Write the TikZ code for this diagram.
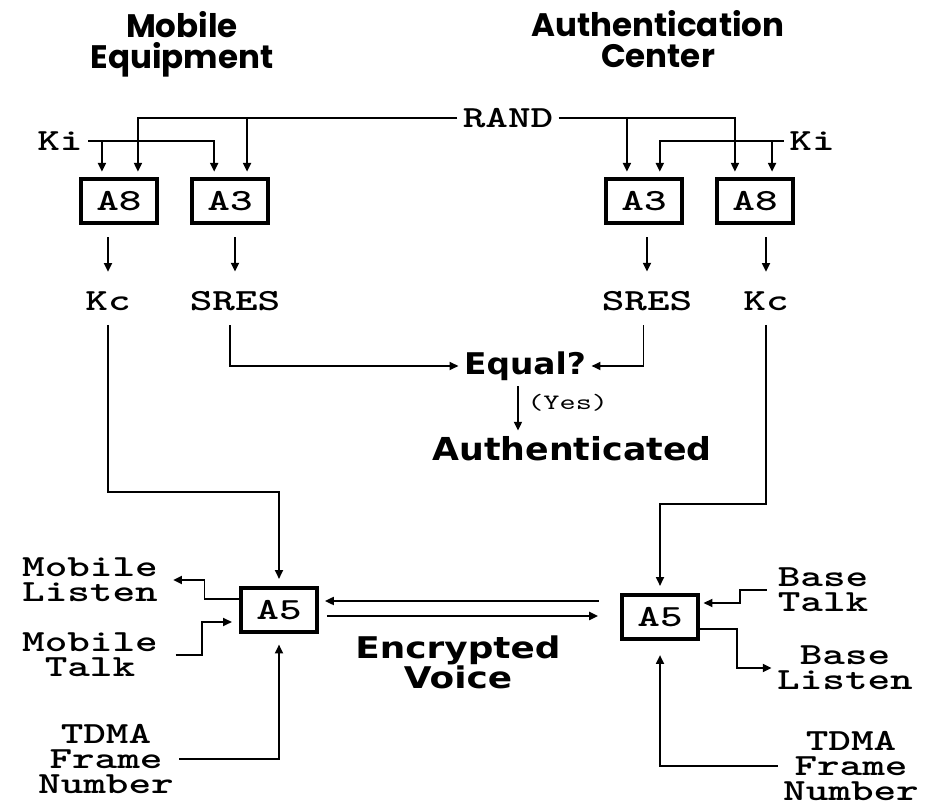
\documentclass[tikz,border=0pt]{standalone}
\usepackage{fontspec}
\usetikzlibrary{arrows.meta}
\newfontfamily\codefont{lmmono10-regular.otf}[BoldFont=lmmonolt10-bold.otf, FakeStretch=1.4]
\newfontfamily\headfont{Poppins}
\newfontfamily\heavyfont{DejaVu Sans}[FakeStretch=1.1]
\newfontfamily\widefont{DejaVu Sans}[FakeStretch=1.2]
\tikzset{
  lbl/.style={font=\codefont\bfseries\fontsize{17.5}{14.2}\selectfont, inner sep=3pt, align=center},
  blk/.style={draw, line width=2.3pt, minimum width=1.52cm, minimum height=0.88cm, inner sep=0pt,
    font=\codefont\bfseries\fontsize{17.5}{14.2}\selectfont},
  headlbl/.style={font=\headfont\bfseries\fontsize{18.5}{17.6}\selectfont, align=center},
  arr/.style={-{Triangle[length=5pt,width=4.5pt]}, line width=1.1pt},
}
\begin{document}
\begin{tikzpicture}[x=0.02cm,y=-0.02cm]
  \fill[white] (0,0) rectangle (934,801);
  %%%%%%%%%%%%%headings%%%%%%%%%%%%%%%%%%%%%%
  \node[headlbl] (me) at (182,44) {Mobile\\Equipment};
  \node[headlbl] (ac) at (658,39) {Authentication\\Center};

  %%%%%%%%%%%%%A8 and A3 on both sides%%%%%%%%%%%%%%%%%%%%%%
  \node[lbl] (rand) at (508,118) {RAND};
  \node[lbl] (kiL) at (60,141) {Ki};
  \node[lbl] (kiR) at (812,141) {Ki};
  \node[blk] (a8L) at (119,201) {A8};
  \node[blk] (a3L) at (230,201) {A3};
  \node[blk] (a3R) at (644,201) {A3};
  \node[blk] (a8R) at (755,201) {A8};

  \draw[arr, shorten >=3pt] (rand.west) -| ([xshift=10.8pt]a8L.north);
  \draw[arr, shorten >=3pt] (rand.west) -| ([xshift=9.7pt]a3L.north);
  \draw[arr, shorten >=3pt] (rand.east) -| ([xshift=-9.7pt]a3R.north);
  \draw[arr, shorten >=3pt] (rand.east) -| ([xshift=-11.4pt]a8R.north);
  \draw[arr, shorten >=3pt] (kiL.east) -| ([xshift=-9.7pt]a8L.north);
  \draw[arr, shorten >=3pt] (kiL.east) -| ([xshift=-9pt]a3L.north);
  \draw[arr, shorten >=3pt] (kiR.west) -| ([xshift=9pt]a3R.north);
  \draw[arr, shorten >=3pt] (kiR.west) -| ([xshift=9.7pt]a8R.north);

  %%%%%%%%%%%%%Kc and SRES%%%%%%%%%%%%%%%%%%%%%%
  \node[lbl] (kcL) at (108,301) {Kc};
  \node[lbl] (sresL) at (235,301) {SRES};
  \node[lbl] (sresR) at (647,301) {SRES};
  \node[lbl] (kcR) at (766,301) {Kc};

  \draw[arr, shorten <=7pt, shorten >=8pt] (kcL |- a8L.south) -- (kcL.north);
  \draw[arr, shorten <=7pt, shorten >=8pt] (sresL |- a3L.south) -- (sresL.north);
  \draw[arr, shorten <=7pt, shorten >=8pt] (sresR |- a3R.south) -- (sresR.north);
  \draw[arr, shorten <=7pt, shorten >=8pt] (kcR |- a8R.south) -- (kcR.north);

  %%%%%%%%%%%%%comparison%%%%%%%%%%%%%%%%%%%%%%
  \node[font=\heavyfont\bfseries\fontsize{17}{17}\selectfont, inner sep=3pt] (eq) at (525,366) {Equal?};
  \node[font=\heavyfont\bfseries\fontsize{18}{18}\selectfont] (auth) at (572,449) {Authenticated};
  \node[font=\codefont\fontsize{12.5}{13}\selectfont, anchor=west, inner sep=0pt] (yes) at (527,403) {(Yes)};

  \draw[arr, shorten <=5pt] ([xshift=-3pt]sresL.south) |- (eq.west);
  \draw[arr, shorten <=5pt] ([xshift=-2pt]sresR.south) |- (eq.east);
  \draw[arr] ([xshift=-4pt]eq.south) -- ([xshift=-4pt]eq.south |- auth.north);

  %%%%%%%%%%%%%A5 on both sides%%%%%%%%%%%%%%%%%%%%%%
  \node[blk] (a5L) at (279,610) {A5};
  \node[blk] (a5R) at (660,617) {A5};
  \node[font=\widefont\bfseries\fontsize{17}{17}\selectfont, align=center] (ev) at (458,662) {Encrypted\\Voice};

  \coordinate (bendL) at (0,492);
  \coordinate (bendR) at (0,504);
  \draw[arr, shorten <=5pt, shorten >=4pt] (kcL.south) -- (kcL.south |- bendL) -| (a5L.north);
  \draw[arr, shorten <=5pt, shorten >=4pt] (kcR.south) -- (kcR.south |- bendR) -| (a5R.north);

  \coordinate (vup) at (0,601);
  \coordinate (vdn) at (0,616);
  \draw[arr, shorten <=12pt, shorten >=3.4pt] (a5R.west |- vup) -- (a5L.east |- vup);
  \draw[arr, shorten <=4.5pt, shorten >=12.5pt] (a5L.east |- vdn) -- (a5R.west |- vdn);

  %%%%%%%%%%%%%mobile side%%%%%%%%%%%%%%%%%%%%%%
  \node[lbl] (mlisten) at (90,580) {Mobile\\Listen};
  \node[lbl] (mtalk) at (90,655) {Mobile\\Talk};
  \node[lbl] (tdmaL) at (106,759) {TDMA\\Frame\\Number};

  \coordinate (lsn) at (0,599);
  \coordinate (tlk) at (0,622);
  \draw[arr, shorten >=5.5pt] ([xshift=2pt]a5L.west |- lsn) -- ++(-38,0) |- (mlisten.east);
  \draw[arr, shorten <=7pt, shorten >=4pt] (mtalk.east) -- ++(39,0) |- (a5L.west |- tlk);
  \draw[arr, shorten >=6pt] (tdmaL.east) -| (a5L.south);

  %%%%%%%%%%%%%base side%%%%%%%%%%%%%%%%%%%%%%
  \node[lbl] (btalk) at (823,590) {Base\\Talk};
  \node[lbl] (blisten) at (845,668) {Base\\Listen};
  \node[lbl] (tdmaR) at (851,766) {TDMA\\Frame\\Number};

  \coordinate (btk) at (0,603);
  \coordinate (bls) at (0,629);
  \draw[arr, shorten <=3pt, shorten >=2pt] (btalk.west) -- ++(-32,0) |- (a5R.east |- btk);
  \draw[arr] (a5R.east |- bls) -- ++(37,0) |- (blisten.west);
  \draw[arr, shorten >=8pt] (tdmaR.west) -| (a5R.south);
\end{tikzpicture}
\end{document}
